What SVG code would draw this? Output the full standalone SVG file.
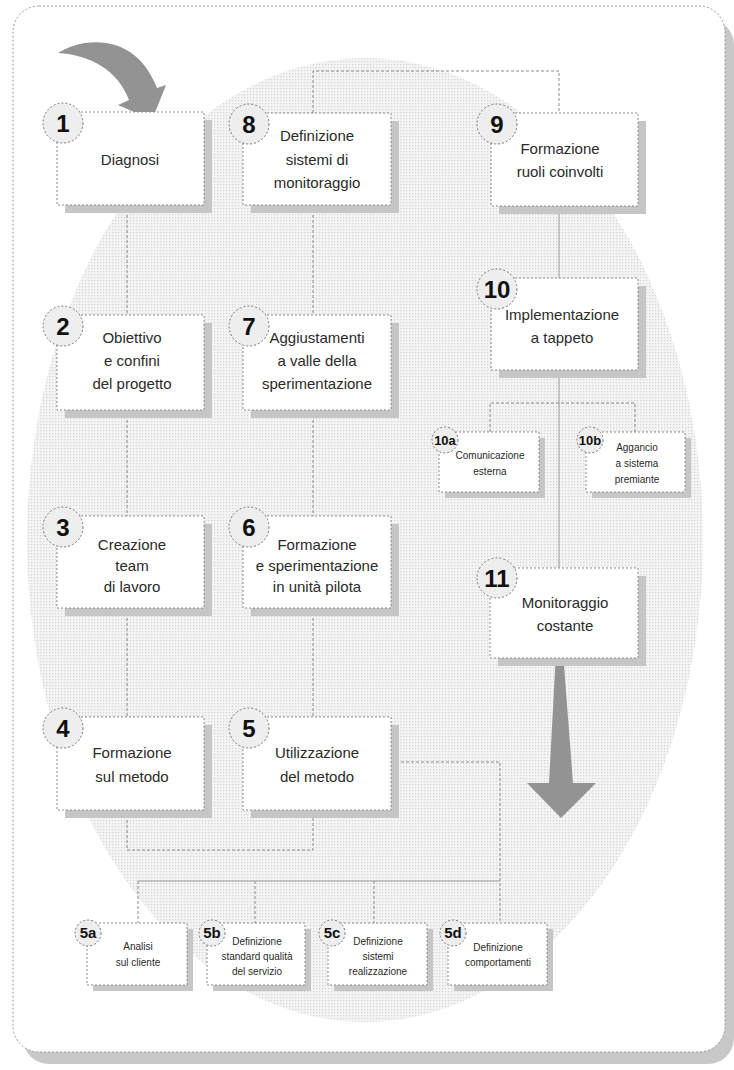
<svg xmlns="http://www.w3.org/2000/svg" width="734" height="1070" viewBox="0 0 734 1070">
<defs>
<pattern id="dots" width="3" height="3" patternUnits="userSpaceOnUse">
<rect width="3" height="3" fill="#f4f4f4"/>
<rect x="1" y="1" width="1.2" height="1.2" fill="#d4d4d4"/>
</pattern>
<style>
.box{fill:#fff;stroke:#8a8a8a;stroke-width:1;stroke-dasharray:2 2}
.sh{fill:#c6c6c6}
.num{fill:#eeeeee;stroke:#777;stroke-width:1;stroke-dasharray:2 2}
.nt{font-family:"Liberation Sans",Arial,sans-serif;font-weight:bold;font-size:24px;fill:#111;text-anchor:middle}
.snt{font-family:"Liberation Sans",Arial,sans-serif;font-weight:bold;font-size:15px;fill:#111;text-anchor:middle}
.t{font-family:"Liberation Sans",Arial,sans-serif;font-size:15px;fill:#2a2a2a;text-anchor:middle}
.st{font-family:"Liberation Sans",Arial,sans-serif;font-size:10px;fill:#2a2a2a;text-anchor:middle}
.c{fill:none;stroke:#8a8a8a;stroke-width:1;stroke-dasharray:3 2}
.cs{fill:none;stroke:#9a9a9a;stroke-width:1}
.ga{fill:#939393}
</style>
</defs>

<!-- frame -->
<rect x="23" y="19" width="711" height="1045" rx="26" fill="#c8c8c8"/>
<rect x="13" y="6" width="712" height="1046" rx="26" fill="#fff" stroke="#999" stroke-width="1" stroke-dasharray="2 2"/>

<!-- background ellipse -->
<ellipse cx="365" cy="540" rx="338" ry="482" fill="url(#dots)"/>

<!-- decorative arrows -->
<path class="ga" d="M58,53 C80,38 135,30 157,88 L166,85 L152,120 L118,105 L129,100 C118,70 90,55 58,53 Z"/>
<polygon class="ga" points="556,652 563,652 573,783 596,783 561,818 527,783 549,783"/>

<g id="connectors">
<path class="c" d="M313,113 V71 H559 V113"/>
<path class="c" d="M127,205 V315 M127,410 V516 M127,608 V717"/>
<path class="c" d="M313,205 V315 M313,410 V516 M313,608 V717"/>
<path class="c" d="M127,810 V850 H313 V810"/>
<path class="cs" d="M559,206 V278 M559,370 V568"/>
<path class="c" d="M490,432 V403 H635 V432"/>
<path class="c" d="M391,762 H500 V923"/>
<path class="cs" d="M138,881 H500"/>
<path class="c" d="M138,881 V923 M255,881 V923 M374,881 V923"/>
</g>

<g id="n1">
<rect class="sh" x="65" y="120" width="147" height="93"/>
<rect class="box" x="57" y="112" width="147" height="93"/>
<circle class="num" cx="63" cy="123" r="20"/>
<text class="nt" x="63" y="132">1</text>
<text class="t" x="130" y="165">Diagnosi</text>
</g>

<g id="n2">
<rect class="sh" x="65" y="323" width="147" height="95"/>
<rect class="box" x="57" y="315" width="147" height="95"/>
<circle class="num" cx="63" cy="326" r="20"/>
<text class="nt" x="63" y="335">2</text>
<text class="t" x="132" y="343">Obiettivo</text>
<text class="t" x="132" y="366">e confini</text>
<text class="t" x="132" y="389">del progetto</text>
</g>

<g id="n3">
<rect class="sh" x="65" y="524" width="147" height="92"/>
<rect class="box" x="57" y="516" width="147" height="92"/>
<circle class="num" cx="63" cy="527" r="20"/>
<text class="nt" x="63" y="536">3</text>
<text class="t" x="132" y="550">Creazione</text>
<text class="t" x="132" y="571">team</text>
<text class="t" x="132" y="592">di lavoro</text>
</g>

<g id="n4">
<rect class="sh" x="65" y="725" width="147" height="93"/>
<rect class="box" x="57" y="717" width="147" height="93"/>
<circle class="num" cx="63" cy="728" r="20"/>
<text class="nt" x="63" y="737">4</text>
<text class="t" x="132" y="758">Formazione</text>
<text class="t" x="132" y="782">sul metodo</text>
</g>

<g id="n5">
<rect class="sh" x="251" y="725" width="148" height="93"/>
<rect class="box" x="243" y="717" width="148" height="93"/>
<circle class="num" cx="249" cy="728" r="20"/>
<text class="nt" x="249" y="737">5</text>
<text class="t" x="317" y="758">Utilizzazione</text>
<text class="t" x="317" y="782">del metodo</text>
</g>

<g id="n6">
<rect class="sh" x="251" y="524" width="148" height="92"/>
<rect class="box" x="243" y="516" width="148" height="92"/>
<circle class="num" cx="249" cy="527" r="20"/>
<text class="nt" x="249" y="536">6</text>
<text class="t" x="317" y="550">Formazione</text>
<text class="t" x="317" y="571">e sperimentazione</text>
<text class="t" x="317" y="592">in unità pilota</text>
</g>

<g id="n7">
<rect class="sh" x="251" y="323" width="148" height="95"/>
<rect class="box" x="243" y="315" width="148" height="95"/>
<circle class="num" cx="249" cy="326" r="20"/>
<text class="nt" x="249" y="335">7</text>
<text class="t" x="317" y="343">Aggiustamenti</text>
<text class="t" x="317" y="366">a valle della</text>
<text class="t" x="317" y="389">sperimentazione</text>
</g>

<g id="n8">
<rect class="sh" x="251" y="121" width="148" height="92"/>
<rect class="box" x="243" y="113" width="148" height="92"/>
<circle class="num" cx="249" cy="124" r="20"/>
<text class="nt" x="249" y="133">8</text>
<text class="t" x="317" y="141">Definizione</text>
<text class="t" x="317" y="165">sistemi di</text>
<text class="t" x="317" y="188">monitoraggio</text>
</g>

<g id="n9">
<rect class="sh" x="499" y="121" width="147" height="93"/>
<rect class="box" x="491" y="113" width="147" height="93"/>
<circle class="num" cx="497" cy="124" r="20"/>
<text class="nt" x="497" y="133">9</text>
<text class="t" x="560" y="154">Formazione</text>
<text class="t" x="560" y="177">ruoli coinvolti</text>
</g>

<g id="n10">
<rect class="sh" x="499" y="286" width="147" height="92"/>
<rect class="box" x="491" y="278" width="147" height="92"/>
<circle class="num" cx="497" cy="289" r="20"/>
<text class="nt" x="497" y="298">10</text>
<text class="t" x="562" y="320">Implementazione</text>
<text class="t" x="562" y="343">a tappeto</text>
</g>

<g id="n10a">
<rect class="sh" x="445" y="438" width="100" height="60"/>
<rect class="box" x="439" y="432" width="100" height="60"/>
<circle class="num" cx="445" cy="440" r="13"/>
<text class="snt" x="445" y="445" style="font-size:13px">10a</text>
<text class="st" x="490" y="459">Comunicazione</text>
<text class="st" x="490" y="475">esterna</text>
</g>

<g id="n10b">
<rect class="sh" x="592" y="438" width="99" height="60"/>
<rect class="box" x="586" y="432" width="99" height="60"/>
<circle class="num" cx="590" cy="440" r="13"/>
<text class="snt" x="590" y="445" style="font-size:13px">10b</text>
<text class="st" x="637" y="451">Aggancio</text>
<text class="st" x="637" y="467">a sistema</text>
<text class="st" x="637" y="483">premiante</text>
</g>

<g id="n11">
<rect class="sh" x="498" y="576" width="148" height="90"/>
<rect class="box" x="490" y="568" width="148" height="90"/>
<circle class="num" cx="497" cy="578" r="20"/>
<text class="nt" x="497" y="587">11</text>
<text class="t" x="565" y="608">Monitoraggio</text>
<text class="t" x="565" y="631">costante</text>
</g>

<g id="n5a">
<rect class="sh" x="93" y="929" width="100" height="62"/>
<rect class="box" x="87" y="923" width="100" height="62"/>
<circle class="num" cx="88" cy="933" r="13"/>
<text class="snt" x="88" y="938">5a</text>
<text class="st" x="138" y="950">Analisi</text>
<text class="st" x="138" y="966">sul cliente</text>
</g>

<g id="n5b">
<rect class="sh" x="213" y="929" width="98" height="62"/>
<rect class="box" x="207" y="923" width="98" height="62"/>
<circle class="num" cx="212" cy="933" r="13"/>
<text class="snt" x="212" y="938">5b</text>
<text class="st" x="257" y="945">Definizione</text>
<text class="st" x="257" y="960">standard qualità</text>
<text class="st" x="257" y="975">del servizio</text>
</g>

<g id="n5c">
<rect class="sh" x="334" y="929" width="99" height="62"/>
<rect class="box" x="328" y="923" width="99" height="62"/>
<circle class="num" cx="332" cy="933" r="13"/>
<text class="snt" x="332" y="938">5c</text>
<text class="st" x="378" y="945">Definizione</text>
<text class="st" x="378" y="960">sistemi</text>
<text class="st" x="378" y="975">realizzazione</text>
</g>

<g id="n5d">
<rect class="sh" x="454" y="929" width="99" height="62"/>
<rect class="box" x="448" y="923" width="99" height="62"/>
<circle class="num" cx="453" cy="933" r="13"/>
<text class="snt" x="453" y="938">5d</text>
<text class="st" x="498" y="951">Definizione</text>
<text class="st" x="498" y="966">comportamenti</text>
</g>
</svg>
